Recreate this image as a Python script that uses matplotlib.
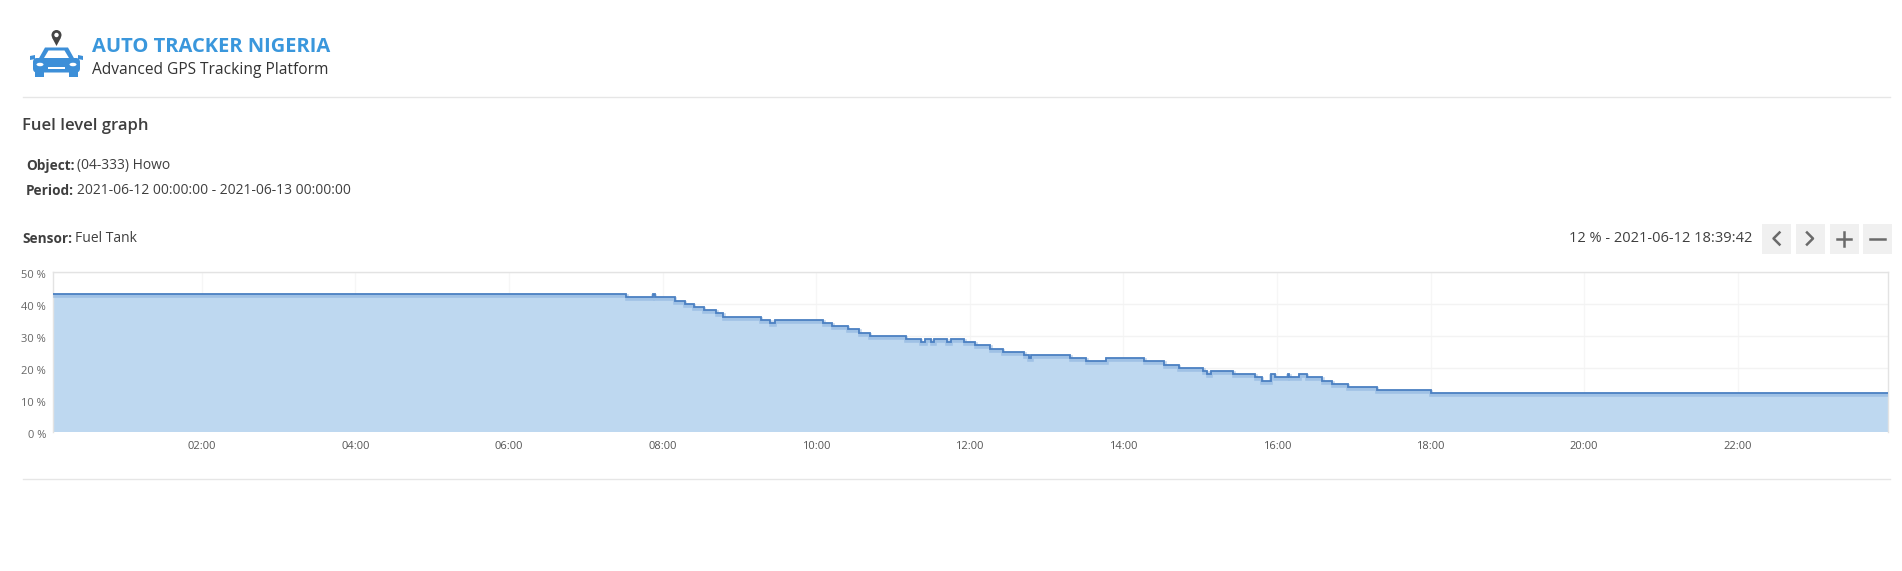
import matplotlib
matplotlib.use("Agg")
import matplotlib.pyplot as plt
import matplotlib.transforms as mtransforms
from matplotlib.patches import Rectangle, FancyBboxPatch, Circle, Polygon, Ellipse
from matplotlib.lines import Line2D

# ---------------- data ----------------
# time of each reading, in hours after 2021-06-12 00:00
times_h = [0.064, 7.53, 7.87, 7.90, 8.16, 8.29, 8.41, 8.54, 8.70, 8.79,
           9.28, 9.40, 9.46, 10.09, 10.21, 10.41, 10.56, 10.70, 11.17,
           11.36, 11.42, 11.50, 11.54, 11.70, 11.75, 11.93, 12.07, 12.27,
           12.43, 12.71, 12.77, 12.80, 13.31, 13.52, 13.78, 14.27, 14.53,
           14.72, 15.04, 15.09, 15.14, 15.43, 15.72, 15.80, 15.92, 15.97,
           16.14, 16.16, 16.29, 16.39, 16.59, 16.72, 16.92, 17.30, 18.00,
           23.95]
fuel_pct = [43, 42, 43, 42, 41, 40, 39, 38, 37, 36,
            35, 34, 35, 34, 33, 32, 31, 30, 29,
            28, 29, 28, 29, 28, 29, 28, 27, 26,
            25, 24, 23, 24, 23, 22, 23, 22, 21,
            20, 19, 18, 19, 18, 17, 16, 18, 17,
            18, 17, 18, 17, 16, 15, 14, 13, 12,
            12]
xtick_hours = [2, 4, 6, 8, 10, 12, 14, 16, 18, 20, 22]
xtick_labels = ["02:00", "04:00", "06:00", "08:00", "10:00", "12:00",
                "14:00", "16:00", "18:00", "20:00", "22:00"]
ytick_values = [0, 10, 20, 30, 40, 50]
ytick_labels = ["0 %", "10 %", "20 %", "30 %", "40 %", "50 %"]

brand_title = "AUTO TRACKER NIGERIA"
brand_subtitle = "Advanced GPS Tracking Platform"
page_title = "Fuel level graph"
object_name = "(04-333) Howo"
period_text = "2021-06-12 00:00:00 - 2021-06-13 00:00:00"
sensor_name = "Fuel Tank"
readout_text = "12 % - 2021-06-12 18:39:42"

# ---------------- figure ----------------
W, H = 1902, 571
plt.rcParams['font.family'] = ['Open Sans', 'DejaVu Sans']
fig = plt.figure(figsize=(W / 100, H / 100), dpi=100)
fig.patch.set_facecolor("white")

# overlay axes in pixel coordinates for page decorations
deco = fig.add_axes([0, 0, 1, 1], zorder=0)
deco.set_xlim(0, W)
deco.set_ylim(H, 0)
deco.axis("off")

BLUE = "#3a97dc"
TXT = "#3f3f3f"

# ---- logo (car with location pin) ----
car = "#3d8fd8"
deco.add_patch(FancyBboxPatch((33, 58), 47, 14.5, boxstyle="round,pad=0,rounding_size=4",
                              fc=car, ec="none"))
deco.add_patch(Polygon([[38, 60], [45, 47.5], [68, 47.5], [75, 60]], closed=True, fc=car, ec="none"))
deco.add_patch(Polygon([[44, 58], [48.5, 50.5], [64.5, 50.5], [69, 58]], closed=True, fc="white", ec="none"))
deco.add_patch(Rectangle((35, 70), 9, 6.5, fc=car, ec="none"))
deco.add_patch(Rectangle((69, 70), 9, 6.5, fc=car, ec="none"))
deco.add_patch(Ellipse((40, 64.5), 7, 3.5, fc="white", ec="none"))
deco.add_patch(Ellipse((73, 64.5), 7, 3.5, fc="white", ec="none"))
deco.add_patch(Rectangle((48, 66.5), 17, 2, fc="white", ec="none"))
deco.add_patch(Polygon([[30, 56], [35, 55], [35, 59], [30, 60]], closed=True, fc=car, ec="none"))
deco.add_patch(Polygon([[83, 56], [78, 55], [78, 59], [83, 60]], closed=True, fc=car, ec="none"))
# pin
deco.add_patch(Circle((56.5, 35), 5, fc="#444444", ec="none"))
deco.add_patch(Polygon([[52, 37.5], [61, 37.5], [56.5, 46]], closed=True, fc="#444444", ec="none"))
deco.add_patch(Circle((56.5, 35), 2.2, fc="white", ec="none"))

deco.text(92, 47, brand_title, fontsize=14.5, fontweight="bold", color=BLUE,
          ha="left", va="center")
deco.text(92, 70.5, brand_subtitle, fontsize=11.2, color="#333333",
          ha="left", va="center")

# separators
deco.add_line(Line2D([23, 1890], [97, 97], color="#e6e6e6", lw=1))
deco.add_line(Line2D([23, 1890], [479, 479], color="#e6e6e6", lw=1))

# page title & info
deco.text(22, 126, page_title, fontsize=12, color=TXT, ha="left", va="center",
          fontweight="semibold")
deco.text(26, 166, "Object:", fontsize=9.8, color=TXT, fontweight="bold", ha="left", va="center")
deco.text(77, 166, object_name, fontsize=10, color=TXT, ha="left", va="center")
deco.text(26, 191, "Period:", fontsize=9.8, color=TXT, fontweight="bold", ha="left", va="center")
deco.text(77, 191, period_text, fontsize=10, color=TXT, ha="left", va="center")
deco.text(22, 239, "Sensor:", fontsize=9.8, color=TXT, fontweight="bold", ha="left", va="center")
deco.text(75, 239, sensor_name, fontsize=10, color=TXT, ha="left", va="center")

deco.text(1752, 239, readout_text, fontsize=10.5, color=TXT, ha="right", va="center")

# buttons
btn_x = [1762, 1795.5, 1829.5, 1863]
for bx in btn_x:
    deco.add_patch(Rectangle((bx, 223.5), 29, 30, fc="#f0f0f0", ec="none"))
g = "#6a6a6a"
cy = 238.5
c = btn_x[0] + 14.5
deco.add_line(Line2D([c + 3, c - 3, c + 3], [cy - 6, cy, cy + 6], color=g, lw=1.8))
c = btn_x[1] + 14.5
deco.add_line(Line2D([c - 3, c + 3, c - 3], [cy - 6, cy, cy + 6], color=g, lw=1.8))
c = btn_x[2] + 14.5
deco.add_line(Line2D([c - 7, c + 7], [cy, cy], color=g, lw=1.8))
deco.add_line(Line2D([c, c], [cy - 7, cy + 7], color=g, lw=1.8))
c = btn_x[3] + 14.5
deco.add_line(Line2D([c - 7.5, c + 7.5], [cy, cy], color=g, lw=1.8))

# ---------------- chart ----------------
left, right, top, bottom = 53, 1887.5, 271.7, 431.7
ax = fig.add_axes([left / W, (H - bottom) / H, (right - left) / W, (bottom - top) / H], zorder=1)
ax.set_facecolor("white")

line_c = "#4b80c2"
fill_c = "#bed8f0"

ax.fill_between(times_h, fuel_pct, 0, step="post", color=fill_c, lw=0, zorder=2)
shadow_tr = mtransforms.offset_copy(ax.transData, fig=fig, x=0.5, y=-2, units="dots")
ax.plot(times_h, fuel_pct, drawstyle="steps-post", color="#7aa6d8", lw=2.6,
        alpha=0.45, transform=shadow_tr, zorder=3, solid_joinstyle="miter")
ax.plot(times_h, fuel_pct, drawstyle="steps-post", color=line_c, lw=1.3, zorder=4,
        solid_joinstyle="miter")

ax.set_xlim(times_h[0], times_h[-1])
ax.set_ylim(0, 50)
ax.set_xticks(xtick_hours)
ax.set_xticklabels(xtick_labels)
ax.set_yticks(ytick_values)
ax.set_yticklabels(ytick_labels)
ax.tick_params(axis="x", length=0, pad=6.5, labelsize=8, labelcolor="#555555")
ax.tick_params(axis="y", length=0, pad=5, labelsize=8, labelcolor="#666666")
for lab in ax.get_yticklabels():
    lab.set_transform(lab.get_transform() + mtransforms.ScaledTranslation(0, -2.5 / 100, fig.dpi_scale_trans))

ax.grid(True, axis="y", color="#f3f3f3", lw=1, zorder=1)
ax.grid(True, axis="x", color="#f6f6f6", lw=1, zorder=1)
ax.set_axisbelow(True)
for s in ax.spines.values():
    s.set_color("#e3e3e3")
    s.set_linewidth(1)
ax.spines["bottom"].set_visible(False)

fig.savefig("out.png", dpi=100, facecolor="white")
